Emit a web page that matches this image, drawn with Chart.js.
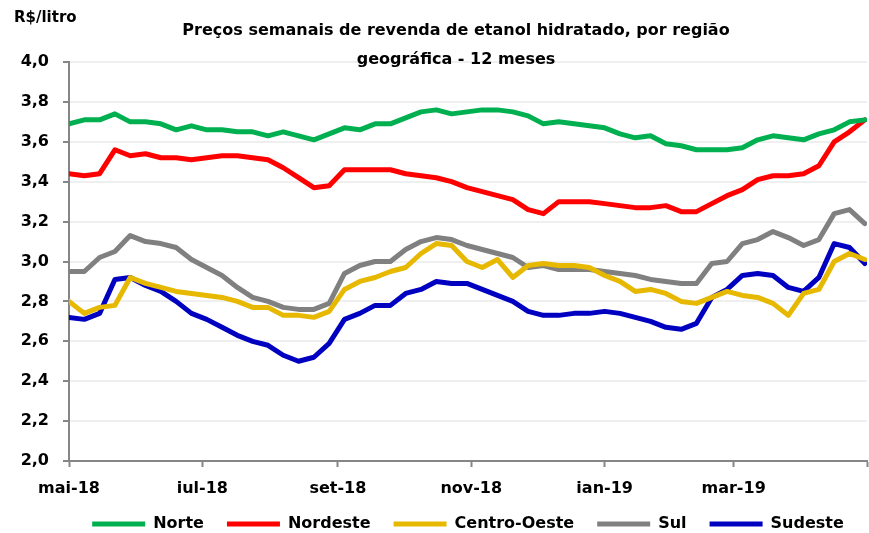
<!DOCTYPE html>
<html>
<head>
<meta charset="utf-8">
<script src="https://cdn.jsdelivr.net/npm/chart.js@4.4.1/dist/chart.umd.min.js"></script>
<style>
  html, body { margin: 0; padding: 0; background: #ffffff; }
  #wrap { width: 869px; height: 533px; }
</style>
</head>
<body>
<div id="wrap"><canvas id="chart" width="869" height="533"></canvas></div>
<script>
// semanas (fim de semana de coleta)
const semanas = [
    '2018-05-05', '2018-05-12', '2018-05-19', '2018-05-26', '2018-06-02', '2018-06-09', '2018-06-16',
    '2018-06-23', '2018-06-30', '2018-07-07', '2018-07-14', '2018-07-21', '2018-07-28', '2018-08-04',
    '2018-08-11', '2018-08-18', '2018-08-25', '2018-09-01', '2018-09-08', '2018-09-15', '2018-09-22',
    '2018-09-29', '2018-10-06', '2018-10-13', '2018-10-20', '2018-10-27', '2018-11-03', '2018-11-10',
    '2018-11-17', '2018-11-24', '2018-12-01', '2018-12-08', '2018-12-15', '2018-12-22', '2018-12-29',
    '2019-01-05', '2019-01-12', '2019-01-19', '2019-01-26', '2019-02-02', '2019-02-09', '2019-02-16',
    '2019-02-23', '2019-03-02', '2019-03-09', '2019-03-16', '2019-03-23', '2019-03-30', '2019-04-06',
    '2019-04-13', '2019-04-20', '2019-04-27', '2019-05-04'
];

const norte = [
    3.69, 3.71, 3.71, 3.74, 3.70, 3.70, 3.69, 3.66, 3.68, 3.66, 3.66, 3.65, 3.65, 3.63,
    3.65, 3.63, 3.61, 3.64, 3.67, 3.66, 3.69, 3.69, 3.72, 3.75, 3.76, 3.74, 3.75, 3.76,
    3.76, 3.75, 3.73, 3.69, 3.70, 3.69, 3.68, 3.67, 3.64, 3.62, 3.63, 3.59, 3.58, 3.56,
    3.56, 3.56, 3.57, 3.61, 3.63, 3.62, 3.61, 3.64, 3.66, 3.70, 3.71
];
const nordeste = [
    3.44, 3.43, 3.44, 3.56, 3.53, 3.54, 3.52, 3.52, 3.51, 3.52, 3.53, 3.53, 3.52, 3.51,
    3.47, 3.42, 3.37, 3.38, 3.46, 3.46, 3.46, 3.46, 3.44, 3.43, 3.42, 3.40, 3.37, 3.35,
    3.33, 3.31, 3.26, 3.24, 3.30, 3.30, 3.30, 3.29, 3.28, 3.27, 3.27, 3.28, 3.25, 3.25,
    3.29, 3.33, 3.36, 3.41, 3.43, 3.43, 3.44, 3.48, 3.60, 3.65, 3.71
];
const centroOeste = [
    2.80, 2.74, 2.77, 2.78, 2.92, 2.89, 2.87, 2.85, 2.84, 2.83, 2.82, 2.80, 2.77, 2.77,
    2.73, 2.73, 2.72, 2.75, 2.86, 2.90, 2.92, 2.95, 2.97, 3.04, 3.09, 3.08, 3.00, 2.97,
    3.01, 2.92, 2.98, 2.99, 2.98, 2.98, 2.97, 2.93, 2.90, 2.85, 2.86, 2.84, 2.80, 2.79,
    2.82, 2.85, 2.83, 2.82, 2.79, 2.73, 2.84, 2.86, 3.00, 3.04, 3.01
];
const sul = [
    2.95, 2.95, 3.02, 3.05, 3.13, 3.10, 3.09, 3.07, 3.01, 2.97, 2.93, 2.87, 2.82, 2.80,
    2.77, 2.76, 2.76, 2.79, 2.94, 2.98, 3.00, 3.00, 3.06, 3.10, 3.12, 3.11, 3.08, 3.06,
    3.04, 3.02, 2.97, 2.98, 2.96, 2.96, 2.96, 2.95, 2.94, 2.93, 2.91, 2.90, 2.89, 2.89,
    2.99, 3.00, 3.09, 3.11, 3.15, 3.12, 3.08, 3.11, 3.24, 3.26, 3.19
];
const sudeste = [
    2.72, 2.71, 2.74, 2.91, 2.92, 2.88, 2.85, 2.80, 2.74, 2.71, 2.67, 2.63, 2.60, 2.58,
    2.53, 2.50, 2.52, 2.59, 2.71, 2.74, 2.78, 2.78, 2.84, 2.86, 2.90, 2.89, 2.89, 2.86,
    2.83, 2.80, 2.75, 2.73, 2.73, 2.74, 2.74, 2.75, 2.74, 2.72, 2.70, 2.67, 2.66, 2.69,
    2.82, 2.86, 2.93, 2.94, 2.93, 2.87, 2.85, 2.92, 3.09, 3.07, 2.99
];

// marcas do eixo x (a cada 2 meses)
const marcasData = ['2018-05-05', '2018-07-05', '2018-09-05', '2018-11-05', '2019-01-05', '2019-03-05', '2019-05-05'];
const marcasTexto = ['mai-18', 'jul-18', 'set-18', 'nov-18', 'jan-19', 'mar-19', ''];

const titulo = ['Preços semanais de revenda de etanol hidratado, por região', 'geográfica - 12 meses'];
const unidade = 'R$/litro';

const FONTE = '"DejaVu Sans", Verdana, sans-serif';
const CINZA_EIXO = '#868686';

// dias desde o inicio do periodo
const inicio = Date.parse(semanas[0] + 'T00:00:00Z');
function dia(s) {
    return Math.round((Date.parse(s + 'T00:00:00Z') - inicio) / 86400000);
}
const diasMarcas = marcasData.map(dia);

function serie(valores) {
    return valores.map((v, i) => ({ x: dia(semanas[i]), y: v }));
}

function dataset(label, valores, cor) {
    return {
        label: label,
        data: serie(valores),
        borderColor: cor,
        backgroundColor: cor,
        borderWidth: 5,
        pointRadius: 0,
        pointHoverRadius: 0,
        tension: 0,
        borderJoinStyle: 'round',
        borderCapStyle: 'round',
        pointStyle: 'line'
    };
}

// titulo e unidade desenhados por cima
const textosExtras = {
    id: 'textosExtras',
    afterDraw(chart) {
        const ctx = chart.ctx;
        ctx.save();
        ctx.fillStyle = '#000000';
        ctx.textBaseline = 'middle';
        ctx.font = 'bold 16px ' + FONTE;
        ctx.textAlign = 'center';
        ctx.fillText(titulo[0], 456, 31);
        ctx.fillText(titulo[1], 456, 60);
        ctx.font = 'bold 15px ' + FONTE;
        ctx.textAlign = 'left';
        ctx.fillText(unidade, 14, 18);
        ctx.restore();
    }
};

const ctx = document.getElementById('chart').getContext('2d');
new Chart(ctx, {
    type: 'line',
    data: {
        datasets: [
            dataset('Norte', norte, '#00B050'),
            dataset('Nordeste', nordeste, '#FF0000'),
            dataset('Centro-Oeste', centroOeste, '#E6B800'),
            dataset('Sul', sul, '#808080'),
            dataset('Sudeste', sudeste, '#0000C0')
        ]
    },
    options: {
        responsive: false,
        animation: false,
        layout: {
            padding: { top: 62, right: 2, left: 0, bottom: -9 }
        },
        plugins: {
            title: { display: false },
            tooltip: { enabled: false },
            legend: {
                position: 'bottom',
                fullSize: false,
                labels: {
                    usePointStyle: true,
                    pointStyleWidth: 53,
                    boxWidth: 53,
                    boxHeight: 5,
                    padding: 23,
                    color: '#000000',
                    font: { family: FONTE, size: 16, weight: 'bold' }
                }
            }
        },
        scales: {
            x: {
                type: 'linear',
                min: 0,
                max: diasMarcas[diasMarcas.length - 1],
                afterFit: (scale) => {
                    scale.height = 32;
                    scale.paddingRight = 0;
                    scale.paddingLeft = 0;
                },
                afterBuildTicks: (scale) => {
                    scale.ticks = diasMarcas.map(v => ({ value: v }));
                },
                border: { display: true, color: CINZA_EIXO, width: 2 },
                grid: {
                    drawOnChartArea: false,
                    drawTicks: true,
                    tickLength: 6,
                    tickColor: CINZA_EIXO,
                    tickWidth: 2
                },
                ticks: {
                    autoSkip: false,
                    maxRotation: 0,
                    padding: 12,
                    color: '#000000',
                    font: { family: FONTE, size: 16, weight: 'bold' },
                    callback: (v) => marcasTexto[diasMarcas.indexOf(v)]
                }
            },
            y: {
                min: 2,
                max: 4,
                afterFit: (scale) => { scale.width = 69; },
                border: { display: true, color: CINZA_EIXO, width: 2 },
                grid: {
                    color: '#EFEFEF',
                    lineWidth: 2,
                    drawTicks: true,
                    tickLength: 6,
                    tickColor: CINZA_EIXO,
                    tickWidth: 2
                },
                ticks: {
                    stepSize: 0.2,
                    padding: 14,
                    color: '#000000',
                    font: { family: FONTE, size: 16, weight: 'bold' },
                    callback: (v) => v.toFixed(1).replace('.', ',')
                }
            }
        }
    },
    plugins: [textosExtras]
});
</script>
</body>
</html>
